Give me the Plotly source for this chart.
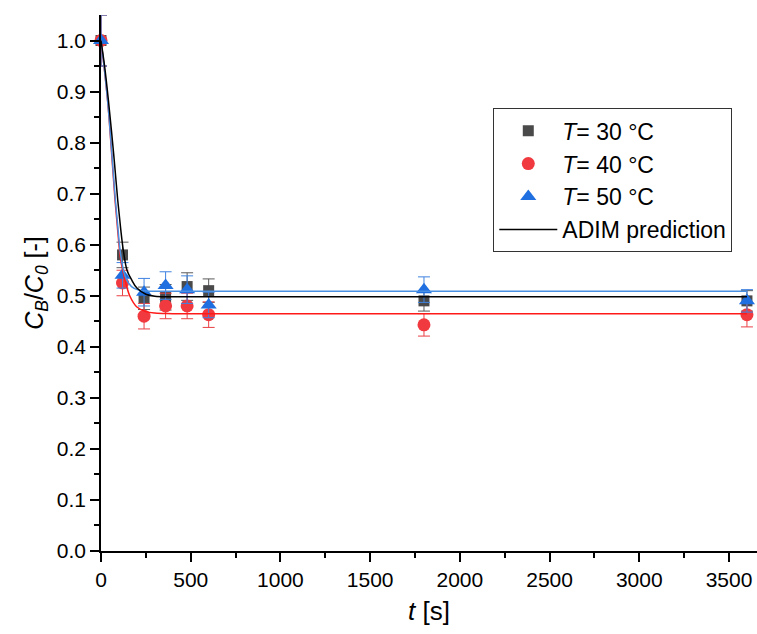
import plotly.graph_objects as go

# ---- data ----
t_exp = [0, 120, 240, 360, 480, 600, 1800, 3600]
c30 = [1.0, 0.58, 0.495, 0.497, 0.518, 0.510, 0.490, 0.490]
e30 = [0.05, 0.025, 0.022, 0.025, 0.027, 0.023, 0.020, 0.020]
c40 = [1.0, 0.525, 0.460, 0.480, 0.480, 0.463, 0.443, 0.463]
e40 = [0.05, 0.025, 0.025, 0.025, 0.025, 0.025, 0.022, 0.024]
c50 = [1.0, 0.540, 0.507, 0.520, 0.512, 0.482, 0.512, 0.490]
e50 = [0.05, 0.025, 0.027, 0.027, 0.027, 0.025, 0.025, 0.022]

# ADIM prediction curves
t_m30 = [0, 20, 41, 70, 93, 110, 124, 145, 171, 200, 250, 300, 400, 3600]
m30 = [1.0, 0.95, 0.884, 0.78, 0.688, 0.63, 0.59, 0.55, 0.531, 0.515, 0.503, 0.499, 0.498, 0.498]
t_m40 = [0, 20, 40, 60, 78, 95, 110, 134, 160, 200, 250, 300, 400, 3600]
m40 = [1.0, 0.94, 0.87, 0.775, 0.688, 0.62, 0.57, 0.531, 0.50, 0.478, 0.469, 0.466, 0.465, 0.465]
t_m50 = [0, 20, 40, 60, 80, 95, 106, 125, 143, 170, 210, 270, 400, 3600]
m50 = [1.0, 0.94, 0.87, 0.78, 0.688, 0.63, 0.59, 0.55, 0.531, 0.518, 0.511, 0.509, 0.509, 0.509]

labels = ["<i>T</i>= 30 °C", "<i>T</i>= 40 °C", "<i>T</i>= 50 °C"]
x_ticks = [0, 500, 1000, 1500, 2000, 2500, 3000, 3500]
x_minor = [250, 750, 1250, 1750, 2250, 2750, 3250]
y_ticks = [0.0, 0.1, 0.2, 0.3, 0.4, 0.5, 0.6, 0.7, 0.8, 0.9, 1.0]
y_minor = [0.05, 0.15, 0.25, 0.35, 0.45, 0.55, 0.65, 0.75, 0.85, 0.95]

FONT = "Liberation Sans, Arial, sans-serif"

fig = go.Figure()

series = [
    (c30, e30, labels[0], "square", "#4a4a4a", "#5a5a5a", 11),
    (c40, e40, labels[1], "circle", "#f03a3f", "#e84045", 13),
    (c50, e50, labels[2], "triangle-up", "#1f6fe0", "#3f82e0", 14),
]
for y, e, name, sym, col, ecol, size in series:
    fig.add_trace(go.Scatter(
        x=t_exp, y=y, mode="markers", name=name,
        marker=dict(symbol=sym, color=col, size=size, line=dict(width=0)),
        error_y=dict(type="data", array=e, visible=True, color=ecol, thickness=1, width=6),
        cliponaxis=False,
    ))

fig.add_trace(go.Scatter(x=t_m40, y=m40, mode="lines", line=dict(color="#ff1a1a", width=1.5, shape="spline"),
                         showlegend=False))
fig.add_trace(go.Scatter(x=t_m50, y=m50, mode="lines", line=dict(color="#4a90e2", width=1.5, shape="spline"),
                         showlegend=False))
fig.add_trace(go.Scatter(x=t_m30, y=m30, mode="lines", name="ADIM prediction",
                         line=dict(color="black", width=1.5, shape="spline")))

fig.update_layout(
    width=757, height=634,
    margin=dict(l=101, r=0, t=15, b=83),
    paper_bgcolor="white", plot_bgcolor="white",
    font=dict(family=FONT, size=21, color="black"),
    showlegend=True,
    legend=dict(
        x=0.598, y=0.826, xanchor="left", yanchor="top",
        bordercolor="#333333", borderwidth=1, bgcolor="white",
        font=dict(family=FONT, size=23, color="black"),
        tracegroupgap=0, itemwidth=58,
    ),
    xaxis=dict(
        range=[0, 3656], tickvals=x_ticks,
        showline=True, linecolor="black", linewidth=1.5, mirror=False,
        ticks="outside", ticklen=9, tickwidth=1.5, tickcolor="black",
        minor=dict(tickvals=x_minor, ticks="outside", ticklen=5,
                   tickwidth=1.5, tickcolor="black"),
        showgrid=False, zeroline=False,
        tickfont=dict(family=FONT, size=21),
        title=dict(text="<i>t</i> [s]", font=dict(family=FONT, size=26), standoff=12),
    ),
    yaxis=dict(
        range=[0, 1.05], tickvals=y_ticks, tickformat=".1f",
        showline=True, linecolor="black", linewidth=1.5, mirror=False,
        ticks="outside", ticklen=9, tickwidth=1.5, tickcolor="black",
        minor=dict(tickvals=y_minor, ticks="outside", ticklen=5,
                   tickwidth=1.5, tickcolor="black"),
        showgrid=False, zeroline=False,
        tickfont=dict(family=FONT, size=21),
        title=dict(text="<i>C<sub>B</sub></i>/<i>C<sub>0</sub></i> [-]", font=dict(family=FONT, size=25), standoff=6),
    ),
)

fig.write_html("out.html")
